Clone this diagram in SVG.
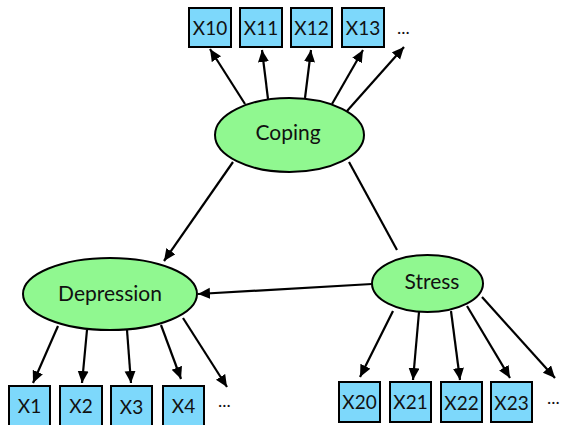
<svg xmlns="http://www.w3.org/2000/svg" width="563" height="425" viewBox="0 0 563 425">
<style>
.lat{fill:#90f890;stroke:#000;stroke-width:2}
.obs{fill:#7dd8fb;stroke:#000;stroke-width:2}
.t{font-family:Lato,"Liberation Sans",Arial,sans-serif;fill:#111;text-anchor:middle;dominant-baseline:central}
.lt{font-size:21px}
.bt{font-size:19px}
.dots{font-family:Lato,"Liberation Sans",Arial,sans-serif;font-size:18px;fill:#111}
.c line{stroke:#000;stroke-width:2.2}
</style>
<defs>
<marker id="ah" markerUnits="userSpaceOnUse" markerWidth="13" markerHeight="12" refX="12" refY="5.5" orient="auto">
<path d="M0,0 L12,5.5 L0,11 z" fill="#000"/>
</marker>
</defs>
<g class="c" id="connectors">
<line x1="245" y1="104" x2="210" y2="49" marker-end="url(#ah)"/>
<line x1="268" y1="99" x2="262" y2="50" marker-end="url(#ah)"/>
<line x1="305" y1="98" x2="311" y2="50" marker-end="url(#ah)"/>
<line x1="332" y1="104" x2="363" y2="50" marker-end="url(#ah)"/>
<line x1="347" y1="111" x2="404" y2="47" marker-end="url(#ah)"/>
<line x1="233" y1="162" x2="164" y2="261" marker-end="url(#ah)"/>
<line x1="349" y1="162" x2="397" y2="250"/>
<line x1="372" y1="284" x2="198" y2="294" marker-end="url(#ah)"/>
<line x1="58" y1="326" x2="33" y2="383" marker-end="url(#ah)"/>
<line x1="87" y1="330" x2="82" y2="383" marker-end="url(#ah)"/>
<line x1="127" y1="330" x2="131" y2="383" marker-end="url(#ah)"/>
<line x1="161" y1="325" x2="181" y2="379" marker-end="url(#ah)"/>
<line x1="183" y1="318" x2="227" y2="387" marker-end="url(#ah)"/>
<line x1="393" y1="311" x2="360" y2="377" marker-end="url(#ah)"/>
<line x1="419" y1="312" x2="413" y2="380" marker-end="url(#ah)"/>
<line x1="451" y1="311" x2="460" y2="380" marker-end="url(#ah)"/>
<line x1="467" y1="306" x2="510" y2="378" marker-end="url(#ah)"/>
<line x1="482" y1="297" x2="555" y2="378" marker-end="url(#ah)"/>
</g>
<g id="coping"><ellipse class="lat" cx="289.5" cy="135" rx="74.5" ry="37"/><text class="t lt" x="288" y="131.5">Coping</text></g>
<g id="depression"><ellipse class="lat" cx="110" cy="294" rx="87" ry="36"/><text class="t lt" x="110" y="292.5">Depression</text></g>
<g id="stress"><ellipse class="lat" cx="427.5" cy="283.5" rx="55.5" ry="28.5"/><text class="t lt" x="432" y="280.5">Stress</text></g>
<g id="x10"><rect class="obs" x="189" y="8" width="42" height="39"/><text class="t bt" x="210" y="27">X10</text></g>
<g id="x11"><rect class="obs" x="240" y="8" width="42" height="39"/><text class="t bt" x="261" y="27">X11</text></g>
<g id="x12"><rect class="obs" x="291" y="8" width="41" height="39"/><text class="t bt" x="311.5" y="27">X12</text></g>
<g id="x13"><rect class="obs" x="342" y="8" width="42" height="39"/><text class="t bt" x="363" y="27">X13</text></g>
<text class="dots" x="397" y="34">...</text>
<g id="x1"><rect class="obs" x="9" y="386" width="41" height="40"/><text class="t bt" x="29.5" y="405">X1</text></g>
<g id="x2"><rect class="obs" x="60" y="386" width="42" height="40"/><text class="t bt" x="81" y="405">X2</text></g>
<g id="x3"><rect class="obs" x="111" y="386" width="41" height="40"/><text class="t bt" x="131.5" y="406">X3</text></g>
<g id="x4"><rect class="obs" x="163" y="386" width="41" height="40"/><text class="t bt" x="183.5" y="405">X4</text></g>
<text class="dots" x="218" y="407">...</text>
<g id="x20"><rect class="obs" x="339" y="382" width="41" height="40"/><text class="t bt" x="359.5" y="401">X20</text></g>
<g id="x21"><rect class="obs" x="390" y="382" width="41" height="40"/><text class="t bt" x="410.5" y="401">X21</text></g>
<g id="x22"><rect class="obs" x="441" y="382" width="41" height="40"/><text class="t bt" x="461.5" y="402">X22</text></g>
<g id="x23"><rect class="obs" x="491" y="382" width="41" height="40"/><text class="t bt" x="511.5" y="402">X23</text></g>
<text class="dots" x="547" y="404">...</text>
</svg>
